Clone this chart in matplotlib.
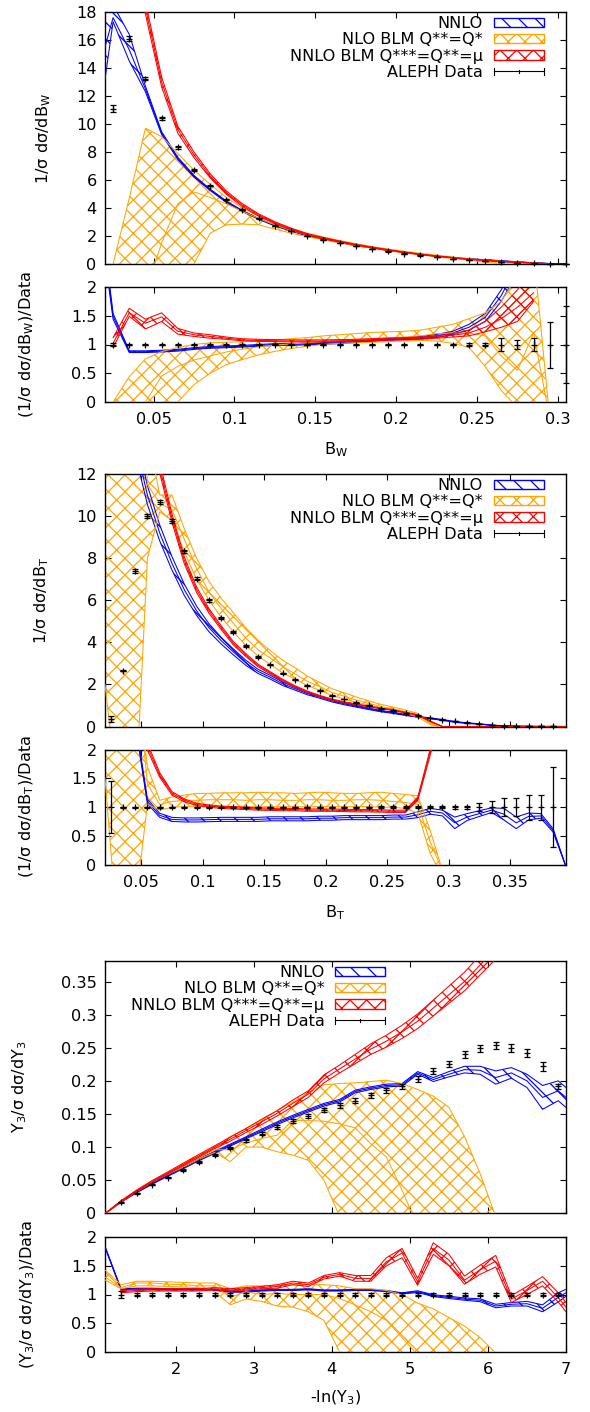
import numpy as np
import matplotlib
matplotlib.use('Agg')
import matplotlib.pyplot as plt
from matplotlib.ticker import MultipleLocator, FuncFormatter
from matplotlib.patches import Patch
from matplotlib.lines import Line2D
from matplotlib.legend_handler import HandlerBase

plt.rcParams['font.family'] = ['DejaVu Sans']
plt.rcParams['mathtext.fontset'] = 'dejavusans'
plt.rcParams['hatch.linewidth'] = 0.9
FS = 11.6
BLUE, ORANGE, RED = '#0000ff', '#ffa500', '#ff0000'
HB = '\\\\'   # blue diagonal hatch
HX = 'xx'     # cross hatch

# ---------------------------------------------------------------- B_W data
bw_x = [0.025, 0.035, 0.045, 0.055, 0.065, 0.075, 0.085, 0.095, 0.105, 0.115,
        0.125, 0.135, 0.145, 0.155, 0.165, 0.175, 0.185, 0.195, 0.205, 0.215,
        0.225, 0.235, 0.245, 0.255, 0.265, 0.275, 0.285, 0.295, 0.305]
bw_data = [11.1, 16.1, 13.25, 10.4, 8.33, 6.74, 5.6, 4.6, 3.88, 3.26,
           2.75, 2.35, 2.0, 1.75, 1.5, 1.27, 1.08, 0.9, 0.75, 0.61,
           0.49, 0.38, 0.28, 0.2, 0.13, 0.08, 0.04, 0.015, 0.005]
bw_relerr = [0.02, 0.01, 0.01, 0.01, 0.01, 0.01, 0.01, 0.01, 0.01, 0.01,
             0.01, 0.01, 0.01, 0.01, 0.01, 0.01, 0.01, 0.012, 0.012, 0.012,
             0.015, 0.015, 0.02, 0.03, 0.12, 0.07, 0.12, 0.4, 0.67]
# main panel theory
bw_nnlo_x = [0.02] + bw_x
bw_nnlo_mid = [15.5, 17.6, 15.3, 12.5, 9.35, 7.55, 6.27, 5.3, 4.45, 3.78,
               3.22, 2.75, 2.38, 2.03, 1.78, 1.55, 1.33, 1.16, 0.98, 0.83,
               0.68, 0.56, 0.45, 0.36, 0.3, 0.22, 0.15, 0.08, 0.03, 0.01]
bw_nnlo_dn = [2.3, 0.3, 0.8, 0.2, 0.1, 0.08, 0.06, 0.05, 0.05, 0.04,
              0.03, 0.03, 0.03, 0.02, 0.02, 0.02, 0.02, 0.01, 0.01, 0.01,
              0.01, 0.01, 0.01, 0.01, 0.01, 0.01, 0.01, 0.005, 0.003, 0.001]
bw_nnlo_up = [2.4, 0.9, 1.1, 0.2, 0.1, 0.08, 0.06, 0.05, 0.05, 0.04,
              0.03, 0.03, 0.03, 0.02, 0.02, 0.02, 0.02, 0.01, 0.01, 0.01,
              0.01, 0.01, 0.01, 0.01, 0.01, 0.01, 0.01, 0.005, 0.003, 0.001]
bw_blm2_x = bw_x[1:28]
bw_blm2_mid = [25, 18.3, 13.0, 9.6, 7.8, 6.3, 5.1, 4.2, 3.5, 2.95,
               2.5, 2.12, 1.85, 1.6, 1.38, 1.18, 1.0, 0.84, 0.69, 0.56,
               0.45, 0.34, 0.26, 0.18, 0.12, 0.06, 0.02]
bw_blm2_hw = [0.8, 0.45, 0.35, 0.25, 0.2, 0.15, 0.12, 0.1, 0.08, 0.07,
              0.06, 0.05, 0.04, 0.04, 0.03, 0.03, 0.03, 0.02, 0.02, 0.02,
              0.015, 0.015, 0.01, 0.01, 0.01, 0.01, 0.005]
bw_blm1_x = bw_x[0:28]
bw_blm1_hi = [0.0, 4.7, 9.7, 9.1, 7.9, 6.7, 5.7, 4.75, 4.0, 3.4,
              2.95, 2.55, 2.2, 1.93, 1.68, 1.45, 1.25, 1.07, 0.91, 0.76,
              0.63, 0.5, 0.38, 0.28, 0.2, 0.14, 0.08, 0.0]
bw_blm1_mid = [-2, -2, -2, 1.5, 4.3, 5.15, 4.75, 4.3, 3.75, 3.25,
               2.8, 2.4, 2.07, 1.82, 1.6, 1.38, 1.18, 1.0, 0.85, 0.7,
               0.58, 0.46, 0.34, 0.24, 0.15, 0.08, 0.04, 0.0]
bw_blm1_lo = [-1, -1, -1, -1, -1, 0.0, 2.2, 2.8, 2.85, 2.8,
              2.5, 2.2, 1.95, 1.72, 1.52, 1.32, 1.13, 0.95, 0.8, 0.66,
              0.52, 0.39, 0.27, 0.13, 0.03, -0.1, -0.1, -0.1]
# ratio panel theory
bwr_nnlo_x = [0.02] + bw_x[0:26]
bwr_nnlo_mid = [2.6, 1.49, 0.875, 0.875, 0.885, 0.9, 0.93, 0.95, 0.96, 0.97,
                0.985, 1.0, 1.0, 1.01, 1.02, 1.03, 1.05, 1.07, 1.09, 1.1,
                1.12, 1.15, 1.2, 1.3, 1.47, 1.85, 2.4]
bwr_nnlo_hw = [0.1, 0.05, 0.015, 0.015, 0.015, 0.015, 0.015, 0.015, 0.015, 0.015,
               0.015, 0.015, 0.015, 0.015, 0.015, 0.015, 0.015, 0.015, 0.015, 0.015,
               0.02, 0.025, 0.03, 0.05, 0.07, 0.1, 0.15]
bwr_blm2_x = bw_x[0:27]
bwr_blm2_mid = [1.02, 1.55, 1.37, 1.48, 1.23, 1.17, 1.14, 1.11, 1.08, 1.07,
                1.065, 1.06, 1.06, 1.06, 1.065, 1.07, 1.08, 1.09, 1.1, 1.11,
                1.13, 1.16, 1.2, 1.3, 1.45, 1.65, 1.9]
bwr_blm2_dn = [0.07, 0.06, 0.1, 0.08, 0.05, 0.03, 0.03, 0.02, 0.015, 0.015,
               0.015, 0.015, 0.015, 0.015, 0.015, 0.015, 0.015, 0.015, 0.02, 0.02,
               0.02, 0.03, 0.05, 0.08, 0.15, 0.25, 0.15]
bwr_blm2_up = [0.1, 0.08, 0.07, 0.07, 0.05, 0.03, 0.03, 0.02, 0.02, 0.02,
               0.02, 0.02, 0.02, 0.02, 0.02, 0.02, 0.02, 0.02, 0.02, 0.02,
               0.02, 0.03, 0.05, 0.1, 0.2, 0.3, 0.5]
bwr_blm1_x = bw_x[0:28]
bwr_blm1_hi = [0.0, 0.44, 0.75, 0.875, 0.95, 1.0, 1.03, 1.04, 1.05, 1.06,
               1.08, 1.1, 1.12, 1.15, 1.17, 1.19, 1.21, 1.22, 1.23, 1.25,
               1.3, 1.35, 1.45, 1.55, 1.75, 2.2, 2.6, -0.3]
bwr_blm1_mid = [-0.5, -0.5, 0.0, 0.45, 0.62, 0.73, 0.8, 0.87, 0.92, 0.96,
                0.99, 1.01, 1.03, 1.05, 1.07, 1.09, 1.1, 1.12, 1.13, 1.15,
                1.19, 1.2, 1.2, 1.15, 0.8, 0.55, 1.2, -0.3]
bwr_blm1_lo = [-0.5, -0.5, -0.5, -0.5, 0.0, 0.3, 0.5, 0.65, 0.74, 0.82,
               0.88, 0.93, 0.97, 1.0, 1.02, 1.03, 1.04, 1.05, 1.06, 1.07,
               1.06, 1.02, 0.95, 0.62, 0.2, -0.1, -0.3, -0.3]

# ---------------------------------------------------------------- B_T data
bt_x = [0.025, 0.035, 0.045, 0.055, 0.065, 0.075, 0.085, 0.095, 0.105, 0.115,
        0.125, 0.135, 0.145, 0.155, 0.165, 0.175, 0.185, 0.195, 0.205, 0.215,
        0.225, 0.235, 0.245, 0.255, 0.265, 0.275, 0.285, 0.295, 0.305, 0.315,
        0.325, 0.335, 0.345, 0.355, 0.365, 0.375, 0.385, 0.395]
bt_data = [0.35, 2.66, 7.39, 10.0, 10.66, 9.78, 8.32, 7.03, 6.0, 5.16,
           4.48, 3.83, 3.3, 2.93, 2.53, 2.23, 1.93, 1.71, 1.47, 1.3,
           1.14, 1.0, 0.85, 0.76, 0.63, 0.52, 0.41, 0.33, 0.27, 0.19,
           0.13, 0.06, 0.03, 0.015, 0.008, 0.004, 0.002]
bt_relerr = [0.45, 0.01, 0.01, 0.01, 0.01, 0.01, 0.01, 0.01, 0.01, 0.01,
             0.01, 0.01, 0.01, 0.01, 0.01, 0.01, 0.01, 0.01, 0.01, 0.01,
             0.01, 0.01, 0.015, 0.015, 0.02, 0.02, 0.02, 0.02, 0.025, 0.03,
             0.07, 0.1, 0.16, 0.16, 0.22, 0.22, 0.69]
bt_nnlo_x = bt_x[1:38]
bt_nnlo_mid = [25, 13.5, 11.0, 9.2, 7.75, 6.5, 5.5, 4.7, 4.08, 3.54,
               3.03, 2.62, 2.34, 2.03, 1.8, 1.57, 1.4, 1.22, 1.08, 0.96,
               0.84, 0.73, 0.65, 0.55, 0.46, 0.39, 0.31, 0.22, 0.16, 0.12,
               0.06, 0.03, 0.012, 0.007, 0.003, 0.001, 0.0]
bt_nnlo_hw = [1.0, 0.55, 0.45, 0.38, 0.32, 0.27, 0.22, 0.19, 0.16, 0.14,
              0.12, 0.1, 0.09, 0.08, 0.07, 0.06, 0.055, 0.05, 0.045, 0.04,
              0.035, 0.03, 0.03, 0.025, 0.02, 0.02, 0.02, 0.02, 0.015, 0.01,
              0.01, 0.005, 0.003, 0.002, 0.001, 0.0, 0.0]
bt_blm2_x = bt_x[3:38]
bt_blm2_mid = [15, 12.3, 9.9, 7.9, 6.5, 5.5, 4.7, 3.95, 3.4, 2.9,
               2.55, 2.2, 1.9, 1.65, 1.45, 1.28, 1.15, 1.05, 0.95, 0.86,
               0.78, 0.66, 0.55, 0.25, 0.0, 0.0, 0.0, 0.0, 0.0, 0.0,
               0.0, 0.0, 0.0, 0.0, 0.0]
bt_blm2_hw = [0.3, 0.25, 0.2, 0.16, 0.13, 0.11, 0.09, 0.08, 0.07, 0.06,
              0.05, 0.045, 0.04, 0.035, 0.03, 0.027, 0.025, 0.022, 0.02, 0.018,
              0.016, 0.014, 0.012, 0.01, 0.0, 0.0, 0.0, 0.0, 0.0, 0.0,
              0.0, 0.0, 0.0, 0.0, 0.0]
bt_blm1_x = [0.0205, 0.025, 0.048] + bt_x[3:28]
bt_blm1_hi = [30, 30, 30, 14, 11.0, 11.0, 9.4, 8.0, 6.9, 6.1,
              5.4, 4.7, 4.1, 3.6, 3.15, 2.8, 2.4, 2.1, 1.8, 1.6,
              1.4, 1.22, 1.05, 0.92, 0.78, 0.62, 0.2, -0.1]
bt_blm1_mid = [30, 30, 30, 11.5, 10.6, 10.3, 8.9, 7.5, 6.4, 5.6,
               4.9, 4.2, 3.65, 3.25, 2.85, 2.5, 2.15, 1.9, 1.62, 1.44,
               1.26, 1.1, 0.95, 0.83, 0.7, 0.55, 0.15, -0.1]
bt_blm1_lo = [2.0, -0.3, -0.3, 8.0, 10.2, 9.8, 8.3, 7.0, 6.0, 5.2,
              4.5, 3.85, 3.35, 2.95, 2.55, 2.25, 1.95, 1.72, 1.48, 1.31,
              1.15, 1.01, 0.86, 0.77, 0.62, 0.45, 0.1, -0.1]
btr_nnlo_x = bt_x[2:38]
btr_nnlo_mid = [2.5, 1.1, 0.86, 0.79, 0.78, 0.78, 0.785, 0.79, 0.79, 0.79,
                0.79, 0.8, 0.8, 0.8, 0.8, 0.81, 0.81, 0.82, 0.82, 0.82,
                0.82, 0.83, 0.83, 0.87, 0.93, 0.9, 0.73, 0.83, 0.89, 0.95,
                0.88, 0.73, 0.84, 0.85, 0.6, 0.0]
btr_nnlo_hw = [0.05, 0.04, 0.035, 0.035, 0.035, 0.035, 0.035, 0.035, 0.035, 0.035,
               0.035, 0.035, 0.035, 0.035, 0.035, 0.035, 0.035, 0.035, 0.035, 0.035,
               0.035, 0.035, 0.035, 0.05, 0.05, 0.05, 0.1, 0.06, 0.05, 0.04,
               0.1, 0.1, 0.06, 0.04, 0.03, 0.0]
btr_blm2_x = bt_x[2:28]
btr_blm2_mid = [4.0, 2.05, 1.56, 1.24, 1.12, 1.05, 1.02, 1.0, 0.99, 0.98,
                0.97, 0.965, 0.96, 0.96, 0.95, 0.95, 0.95, 0.945, 0.94, 0.94,
                0.935, 0.93, 0.93, 1.15, 1.95, 2.8]
btr_blm2_hw = [0.1, 0.06, 0.04, 0.03, 0.025, 0.02, 0.02, 0.02, 0.02, 0.02,
               0.02, 0.02, 0.02, 0.02, 0.02, 0.02, 0.02, 0.02, 0.02, 0.02,
               0.02, 0.02, 0.02, 0.03, 0.05, 0.05]
btr_blm1_x = [0.0205, 0.027, 0.048] + bt_x[3:28]
btr_blm1_hi = [3.0, 3.0, 3.0, 1.7, 1.12, 1.18, 1.21, 1.24, 1.24, 1.25,
               1.25, 1.25, 1.26, 1.25, 1.25, 1.24, 1.25, 1.26, 1.25, 1.24,
               1.24, 1.25, 1.26, 1.24, 1.22, 1.2, 0.6, -0.1]
btr_blm1_mid = [3.0, 3.0, 3.0, 1.4, 1.05, 1.1, 1.12, 1.12, 1.13, 1.13,
                1.13, 1.12, 1.13, 1.13, 1.12, 1.12, 1.13, 1.13, 1.12, 1.12,
                1.13, 1.13, 1.12, 1.1, 1.08, 1.05, 0.4, -0.1]
btr_blm1_lo = [1.5, -0.2, -0.2, 1.05, 0.95, 1.0, 1.01, 1.01, 1.01, 1.01,
               1.01, 1.01, 1.01, 1.01, 1.01, 1.01, 1.01, 1.01, 1.01, 1.01,
               1.01, 1.01, 1.0, 1.0, 0.98, 0.9, 0.2, -0.2]

# ---------------------------------------------------------------- Y3 data
y3_x = [1.1, 1.3, 1.5, 1.7, 1.9, 2.1, 2.3, 2.5, 2.7, 2.9,
        3.1, 3.3, 3.5, 3.7, 3.9, 4.1, 4.3, 4.5, 4.7, 4.9,
        5.1, 5.3, 5.5, 5.7, 5.9, 6.1, 6.3, 6.5, 6.7, 6.9, 7.0]
y3_data = [0.0167, 0.0303, 0.043, 0.054, 0.0657, 0.0768, 0.088, 0.0985, 0.11, 0.12,
           0.13, 0.139, 0.1465, 0.1566, 0.163, 0.17, 0.178, 0.186, 0.192, 0.203,
           0.2146, 0.2258, 0.24, 0.249, 0.2535, 0.25, 0.2424, 0.222, 0.192]
y3_relerr = [0.06, 0.02, 0.02, 0.02, 0.02, 0.02, 0.02, 0.02, 0.02, 0.02,
             0.02, 0.02, 0.02, 0.02, 0.02, 0.02, 0.02, 0.02, 0.02, 0.02,
             0.02, 0.02, 0.02, 0.02, 0.02, 0.025, 0.025, 0.03, 0.02]
y3_nnlo_mid = [0.0, 0.0175, 0.032, 0.045, 0.057, 0.069, 0.081, 0.092, 0.103, 0.114,
               0.125, 0.136, 0.146, 0.155, 0.164, 0.17, 0.184, 0.189, 0.193, 0.194,
               0.212, 0.202, 0.21, 0.217, 0.216, 0.205, 0.212, 0.2, 0.175, 0.185, 0.175]
y3_nnlo_hw = [0.0, 0.001, 0.001, 0.001, 0.001, 0.0015, 0.0015, 0.0015, 0.0015, 0.0015,
              0.002, 0.002, 0.002, 0.002, 0.002, 0.002, 0.002, 0.002, 0.002, 0.002,
              0.002, 0.003, 0.004, 0.005, 0.006, 0.01, 0.008, 0.01, 0.018, 0.015, 0.015]
y3_blm2_mid = [0.0, 0.018, 0.034, 0.048, 0.061, 0.074, 0.087, 0.1, 0.112, 0.125,
               0.138, 0.151, 0.166, 0.18, 0.203, 0.218, 0.233, 0.248, 0.26, 0.274,
               0.29, 0.31, 0.33, 0.35, 0.375, 0.4]
y3_blm2_hw = [0.0, 0.001, 0.001, 0.0015, 0.0015, 0.002, 0.002, 0.002, 0.003, 0.003,
              0.004, 0.004, 0.005, 0.005, 0.006, 0.006, 0.007, 0.008, 0.009, 0.01,
              0.011, 0.012, 0.013, 0.014, 0.015, 0.016]
y3_blm1_hi = [0.0, 0.018, 0.035, 0.049, 0.061, 0.074, 0.086, 0.1, 0.116, 0.128,
              0.14, 0.155, 0.168, 0.181, 0.194, 0.196, 0.197, 0.199, 0.201, 0.196,
              0.187, 0.177, 0.16, 0.116, 0.06, -0.005]
y3_blm1_mid = [0.0, 0.018, 0.034, 0.048, 0.06, 0.072, 0.084, 0.096, 0.096, 0.106,
               0.113, 0.118, 0.14, 0.14, 0.139, 0.135, 0.129, 0.105, 0.085, 0.035,
               -0.02, -0.02, -0.02, -0.02, -0.02, -0.02]
y3_blm1_lo = [0.0, 0.017, 0.033, 0.047, 0.059, 0.07, 0.082, 0.092, 0.078, 0.1,
              0.1, 0.093, 0.088, 0.08, 0.05, -0.005, -0.02, -0.02, -0.02, -0.02,
              -0.02, -0.02, -0.02, -0.02, -0.02, -0.02]
y3r_nnlo_mid = [1.81, 1.09, 1.1, 1.1, 1.09, 1.09, 1.09, 1.08, 1.05, 1.05,
                1.07, 1.08, 1.08, 1.09, 1.07, 1.07, 1.08, 1.08, 1.06, 1.02,
                1.05, 0.98, 0.95, 0.92, 0.9, 0.8, 0.83, 0.84, 0.76, 0.95, 1.03]
y3r_nnlo_hw = [0.01, 0.01, 0.01, 0.01, 0.01, 0.01, 0.01, 0.01, 0.01, 0.01,
               0.01, 0.01, 0.01, 0.01, 0.01, 0.01, 0.01, 0.01, 0.01, 0.01,
               0.015, 0.015, 0.02, 0.02, 0.025, 0.03, 0.03, 0.04, 0.06, 0.08, 0.06]
y3r_blm2_mid = [1.05, 1.07, 1.08, 1.08, 1.08, 1.08, 1.1, 1.08, 1.1, 1.12,
                1.14, 1.2, 1.17, 1.3, 1.35, 1.28, 1.28, 1.57, 1.72, 1.22,
                1.8, 1.6, 1.25, 1.43, 1.58, 0.92, 1.07, 1.23, 0.95, 0.78]
y3r_blm2_hw = [0.02, 0.02, 0.02, 0.02, 0.02, 0.02, 0.02, 0.02, 0.02, 0.02,
               0.03, 0.03, 0.03, 0.03, 0.03, 0.05, 0.05, 0.07, 0.08, 0.06,
               0.1, 0.1, 0.07, 0.08, 0.1, 0.06, 0.07, 0.08, 0.08, 0.08]
y3r_blm1_hi = [1.42, 1.17, 1.23, 1.23, 1.22, 1.21, 1.2, 1.2, 1.1, 1.15,
               1.15, 1.16, 1.17, 1.18, 1.17, 1.15, 1.1, 1.1, 1.07, 1.0,
               0.85, 0.75, 0.6, 0.45, 0.25, -0.02]
y3r_blm1_mid = [1.3, 1.12, 1.2, 1.2, 1.18, 1.17, 1.15, 1.15, 0.95, 1.05,
                1.0, 1.02, 1.0, 1.0, 1.0, 0.93, 0.82, 0.7, 0.55, 0.25,
                -0.05, -0.05, -0.05, -0.05, -0.05, -0.05]
y3r_blm1_lo = [1.25, 1.1, 1.15, 1.15, 1.14, 1.13, 1.12, 1.05, 0.82, 0.92,
               0.88, 0.8, 0.78, 0.7, 0.55, 0.0, -0.05, -0.05, -0.05, -0.05,
               -0.05, -0.05, -0.05, -0.05, -0.05, -0.05]

labels = ['NNLO', 'NLO BLM Q**=Q*', 'NNLO BLM Q***=Q**=\u03bc', 'ALEPH Data']

# ---------------------------------------------------------------- figure
W, H = 590, 1412
fig = plt.figure(figsize=(W / 100, H / 100), dpi=100)
fig.patch.set_facecolor('white')
LEFT, RIGHT = 105, 566


def add_ax(top, bottom):
    return fig.add_axes([LEFT / W, 1 - bottom / H, (RIGHT - LEFT) / W, (bottom - top) / H])


gfmt = FuncFormatter(lambda v, p: '%g' % round(v, 6))


def style(ax, xlim, ylim, xstep, ystep, xlabels):
    ax.set_xlim(*xlim)
    ax.set_ylim(*ylim)
    ax.xaxis.set_major_locator(MultipleLocator(xstep))
    ax.yaxis.set_major_locator(MultipleLocator(ystep))
    ax.xaxis.set_major_formatter(gfmt)
    ax.yaxis.set_major_formatter(gfmt)
    ax.tick_params(direction='in', length=4.3, width=0.8, top=True, right=True,
                   labelsize=FS, pad=6, labelbottom=xlabels)
    ax.tick_params(axis='x', pad=7)
    for s in ax.spines.values():
        s.set_linewidth(1.0)


def band(ax, x, lo, mid, hi, color, hatch):
    x = np.asarray(x, float)
    lo = np.asarray(lo, float)
    mid = np.asarray(mid, float)
    hi = np.asarray(hi, float)
    ax.fill_between(x, lo, hi, facecolor='none', edgecolor=color, hatch=hatch,
                    linewidth=0.0, zorder=2)
    for y in (lo, mid, hi):
        ax.plot(x, y, color=color, lw=0.75, zorder=3)


def pm(mid, dn, up=None):
    mid = np.asarray(mid, float)
    dn = np.asarray(dn, float)
    up = dn if up is None else np.asarray(up, float)
    return mid - dn, mid, mid + up


def data(ax, x, y, err):
    ax.errorbar(x, y, yerr=err, fmt='+', color='k', ms=4.5, mew=0.9,
                elinewidth=0.9, capsize=2.0, capthick=0.9, clip_on=False, zorder=6)


class HandlerXErr(HandlerBase):
    def create_artists(self, legend, orig_handle, xdescent, ydescent, width,
                       height, fontsize, trans):
        x0, x1 = -xdescent, -xdescent + width
        yc = -ydescent + height / 2
        c = 2.6
        arts = [Line2D([x0, x1], [yc, yc], color='k', lw=0.8),
                Line2D([x0, x0], [yc - c, yc + c], color='k', lw=0.8),
                Line2D([x1, x1], [yc - c, yc + c], color='k', lw=0.8),
                Line2D([(x0 + x1) / 2] * 2, [yc - 1.0, yc + 1.0], color='k', lw=0.8)]
        for a in arts:
            a.set_transform(trans)
        return arts


def legend(ax, ax_h, right_px):
    handles = [Patch(facecolor='none', edgecolor=BLUE, hatch=HB, lw=1.0),
               Patch(facecolor='none', edgecolor=ORANGE, hatch=HX, lw=1.0),
               Patch(facecolor='none', edgecolor=RED, hatch=HX, lw=1.0),
               Line2D([], [], color='k')]
    ax.legend(handles, labels, loc='upper right', markerfirst=False, frameon=False,
              bbox_to_anchor=((right_px - LEFT) / (RIGHT - LEFT), 1 - 4.0 / ax_h),
              fontsize=FS, handlelength=3.1, handleheight=0.52, handletextpad=0.66,
              labelspacing=0.08, borderpad=0.0, borderaxespad=0.0,
              handler_map={Line2D: HandlerXErr()})


def ytext(x, y, s):
    fig.text(x / W, 1 - y / H, s, rotation=90, ha='center', va='center',
             fontsize=FS, rotation_mode='anchor')


def xtext(y, s):
    fig.text(((LEFT + RIGHT) / 2) / W, 1 - y / H, s, ha='center', va='baseline', fontsize=FS)


# ---------------- Panel 1: B_W
a1 = add_ax(12, 264)
band(a1, bw_nnlo_x, *pm(bw_nnlo_mid, bw_nnlo_dn, bw_nnlo_up), BLUE, HB)
band(a1, bw_blm1_x, bw_blm1_lo, bw_blm1_mid, bw_blm1_hi, ORANGE, HX)
band(a1, bw_blm2_x, *pm(bw_blm2_mid, bw_blm2_hw), RED, HX)
data(a1, bw_x, bw_data, np.array(bw_relerr) * np.array(bw_data))
style(a1, (0.02, 0.305), (0, 18), 0.05, 2, False)
legend(a1, 252, 543.5)

r1 = add_ax(287, 402)
band(r1, bwr_nnlo_x, *pm(bwr_nnlo_mid, bwr_nnlo_hw), BLUE, HB)
band(r1, bwr_blm1_x, bwr_blm1_lo, bwr_blm1_mid, bwr_blm1_hi, ORANGE, HX)
band(r1, bwr_blm2_x, *pm(bwr_blm2_mid, bwr_blm2_dn, bwr_blm2_up), RED, HX)
data(r1, bw_x, np.array(bw_data) / np.array(bw_data), bw_relerr)
style(r1, (0.02, 0.305), (0, 2), 0.05, 0.5, True)

ytext(44, 138, '1/\u03c3 d\u03c3/dB$_\\mathregular{W}$')
ytext(27, 344.5, '(1/\u03c3 d\u03c3/dB$_\\mathregular{W}$)/Data')
xtext(454, 'B$_\\mathregular{W}$')

# ---------------- Panel 2: B_T
a2 = add_ax(474, 726.5)
band(a2, bt_nnlo_x, *pm(bt_nnlo_mid, bt_nnlo_hw), BLUE, HB)
band(a2, bt_blm1_x, bt_blm1_lo, bt_blm1_mid, bt_blm1_hi, ORANGE, HX)
band(a2, bt_blm2_x, *pm(bt_blm2_mid, bt_blm2_hw), RED, HX)
data(a2, bt_x[:37], bt_data, np.array(bt_relerr) * np.array(bt_data))
style(a2, (0.0205, 0.3955), (0, 12), 0.05, 2, False)
legend(a2, 252.5, 543.5)

r2 = add_ax(749.5, 865)
band(r2, btr_nnlo_x, *pm(btr_nnlo_mid, btr_nnlo_hw), BLUE, HB)
band(r2, btr_blm1_x, btr_blm1_lo, btr_blm1_mid, btr_blm1_hi, ORANGE, HX)
band(r2, btr_blm2_x, *pm(btr_blm2_mid, btr_blm2_hw), RED, HX)
data(r2, bt_x[:37], np.array(bt_data) / np.array(bt_data), bt_relerr)
style(r2, (0.0205, 0.3955), (0, 2), 0.05, 0.5, True)

ytext(42, 600, '1/\u03c3 d\u03c3/dB$_\\mathregular{T}$')
ytext(27, 807, '(1/\u03c3 d\u03c3/dB$_\\mathregular{T}$)/Data')
xtext(917, 'B$_\\mathregular{T}$')

# ---------------- Panel 3: Y3
a3 = add_ax(961, 1213.3)
band(a3, y3_x, *pm(y3_nnlo_mid, y3_nnlo_hw), BLUE, HB)
band(a3, y3_x[0:26], y3_blm1_lo, y3_blm1_mid, y3_blm1_hi, ORANGE, HX)
band(a3, y3_x[0:26], *pm(y3_blm2_mid, y3_blm2_hw), RED, HX)
data(a3, y3_x[1:30], y3_data, np.array(y3_relerr) * np.array(y3_data))
style(a3, (1.095, 7.0), (0, 0.381), 1, 0.05, False)
legend(a3, 252.3, 385.0)

r3 = add_ax(1237, 1352)
band(r3, y3_x, *pm(y3r_nnlo_mid, y3r_nnlo_hw), BLUE, HB)
band(r3, y3_x[0:26], y3r_blm1_lo, y3r_blm1_mid, y3r_blm1_hi, ORANGE, HX)
band(r3, y3_x[1:31], *pm(y3r_blm2_mid, y3r_blm2_hw), RED, HX)
data(r3, y3_x[1:30], np.array(y3_data) / np.array(y3_data), y3_relerr)
style(r3, (1.095, 7.0), (0, 2), 1, 0.5, True)

ytext(20, 1087, 'Y$_\\mathregular{3}$/\u03c3 d\u03c3/dY$_\\mathregular{3}$')
ytext(28, 1294.5, '(Y$_\\mathregular{3}$/\u03c3 d\u03c3/dY$_\\mathregular{3}$)/Data')
xtext(1402, '-ln(Y$_\\mathregular{3}$)')

fig.savefig('out.png', dpi=100, facecolor='white')
